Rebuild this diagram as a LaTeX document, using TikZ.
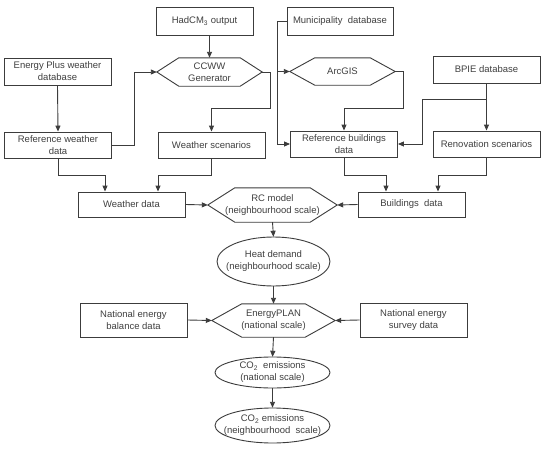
\documentclass[tikz,border=0pt]{standalone}
\usepackage{fontspec}
\setmainfont{Liberation Sans}
\usetikzlibrary{arrows.meta,shapes.geometric,calc}
\definecolor{ln}{HTML}{3C3C3C}
\definecolor{tx}{HTML}{404040}
\newcommand\hexdraw[2]{\draw[line] (#1.west) -- ($(#1.north west)+(#2,0)$) -- ($(#1.north east)+(-#2,0)$) -- (#1.east) -- ($(#1.south east)+(-#2,0)$) -- ($(#1.south west)+(#2,0)$) -- cycle;}
\newcommand\elldraw[3]{\draw[line] (#1.center) ellipse [x radius=#2, y radius=#3];}
\begin{document}
\begin{tikzpicture}[x=1pt,y=-1pt,
  line/.style={draw=ln,line width=0.9pt},
  arr/.style={line,-{Triangle[length=6pt,width=5pt]}},
  base/.style={inner sep=0pt,text=tx,align=center,font=\fontsize{9.5}{12}\selectfont},
  box/.style={base,draw=ln,line width=0.9pt,rectangle,minimum width=107pt,minimum height=27pt},
  hexn/.style={base,rectangle}]
\fill[white] (0,0) rectangle (550,450);
\useasboundingbox (0,0) rectangle (550,450);
% top row
\node[box,minimum width=97pt,minimum height=28pt] (had) at (204.5,21) {HadCM\textsubscript{3} output};
\node[box,minimum width=106pt,minimum height=28pt] (mun) at (340,21) {Municipality\ \ database};
\node[box,minimum height=27pt] (epw) at (57.5,71.5) {Energy Plus weather\\database};
\node[hexn,minimum width=105pt,minimum height=28pt] (ccww) at (209.5,72) {CCWW\\Generator};
\hexdraw{ccww}{22}
\node[hexn,minimum width=105pt,minimum height=27pt] (arc) at (342.5,71.5) {ArcGIS};
\hexdraw{arc}{25}
\node[box] (bpie) at (486.5,69.5) {BPIE database};
% second row
\node[box,minimum height=26pt] (refw) at (58,145) {Reference weather\\data};
\node[box,minimum height=26pt] (ws) at (211.5,145) {Weather scenarios};
\node[box,minimum height=26pt] (refb) at (344,144) {Reference buildings\\data};
\node[box,minimum height=26pt] (ren) at (486.5,144) {Renovation scenarios};
% third row
\node[box,minimum height=25pt] (wd) at (131.5,204.5) {Weather data};
\node[hexn,minimum width=129pt,minimum height=34pt] (rc) at (272.5,205) {RC model\\(neighbourhood scale)};
\hexdraw{rc}{27}
\node[box,minimum height=25pt] (bd) at (411.5,204.5) {Buildings\ \ data};
\node[hexn,minimum width=113pt,minimum height=49pt] (hd) at (273.5,261.5) {Heat demand\\(neighbourhood scale)};
\elldraw{hd}{56.5}{24.5}
% fourth row
\node[box,minimum height=34pt] (neb) at (133.5,320) {National energy\\balance data};
\node[hexn,minimum width=123pt,minimum height=33pt] (ep) at (273.5,320.5) {EnergyPLAN\\(national scale)};
\hexdraw{ep}{30}
\node[box,minimum height=34pt] (nes) at (413.5,320) {National energy\\survey data};
\node[hexn,minimum width=115pt,minimum height=31pt] (co2n) at (272.5,372.5) {CO\textsubscript{2}\ \ emissions\\(national scale)};
\elldraw{co2n}{57.5}{15.5}
\node[hexn,minimum width=115pt,minimum height=35pt] (co2h) at (272.5,425.5) {CO\textsubscript{2} emissions\\(neighbourhood\ \ scale)};
\elldraw{co2h}{57.5}{17.5}
% connectors
\draw[arr] (had.south -| ccww.north) -- (ccww.north);
\draw[arr] (epw.south) -- (refw.north);
\draw[arr] (refw.east) -- ++(22,0) |- (ccww.west);
\draw[arr] (ccww.east) -- ++(8,0) -- ++(0,36) -| (ws.north);
\draw (mun.west) [line] -- ++(-9,0) coordinate (mj);
\draw[arr] (mj) |- (arc.west);
\draw[arr] (mj) |- (refb.west);
\draw[arr] (arc.east) -- ++(8,0) -- ++(0,36.5) -| (refb.north);
\draw[arr] (bpie.south) -- (ren.north);
\path (bpie.south) ++(0,16) coordinate (bj);
\draw[arr] (bj) -- ++(-64,0) |- (refb.east);
\draw[arr] (refw.south) -- ++(0,17) -| ($(wd.north)+(-26.5,0)$);
\draw[arr] (ws.south) -- ++(0,17) -| ($(wd.north)+(26.5,0)$);
\draw[arr] (refb.south) -- ++(0,18) -| ($(bd.north)+(-25.5,0)$);
\draw[arr] (ren.south) -- ++(0,18) -| ($(bd.north)+(26.5,0)$);
\draw[arr] (wd.east) -- (rc.west);
\draw[arr] (bd.west) -- (rc.east);
\draw[arr] (rc.south) -- (hd.north);
\draw[arr] (hd.south) -- (ep.north);
\draw[arr] (neb.east) -- (ep.west);
\draw[arr] (nes.west) -- (ep.east);
\draw[arr] (ep.south) -- (co2n.north);
\draw[arr] (co2n.south) -- (co2h.north);
\end{tikzpicture}
\end{document}
